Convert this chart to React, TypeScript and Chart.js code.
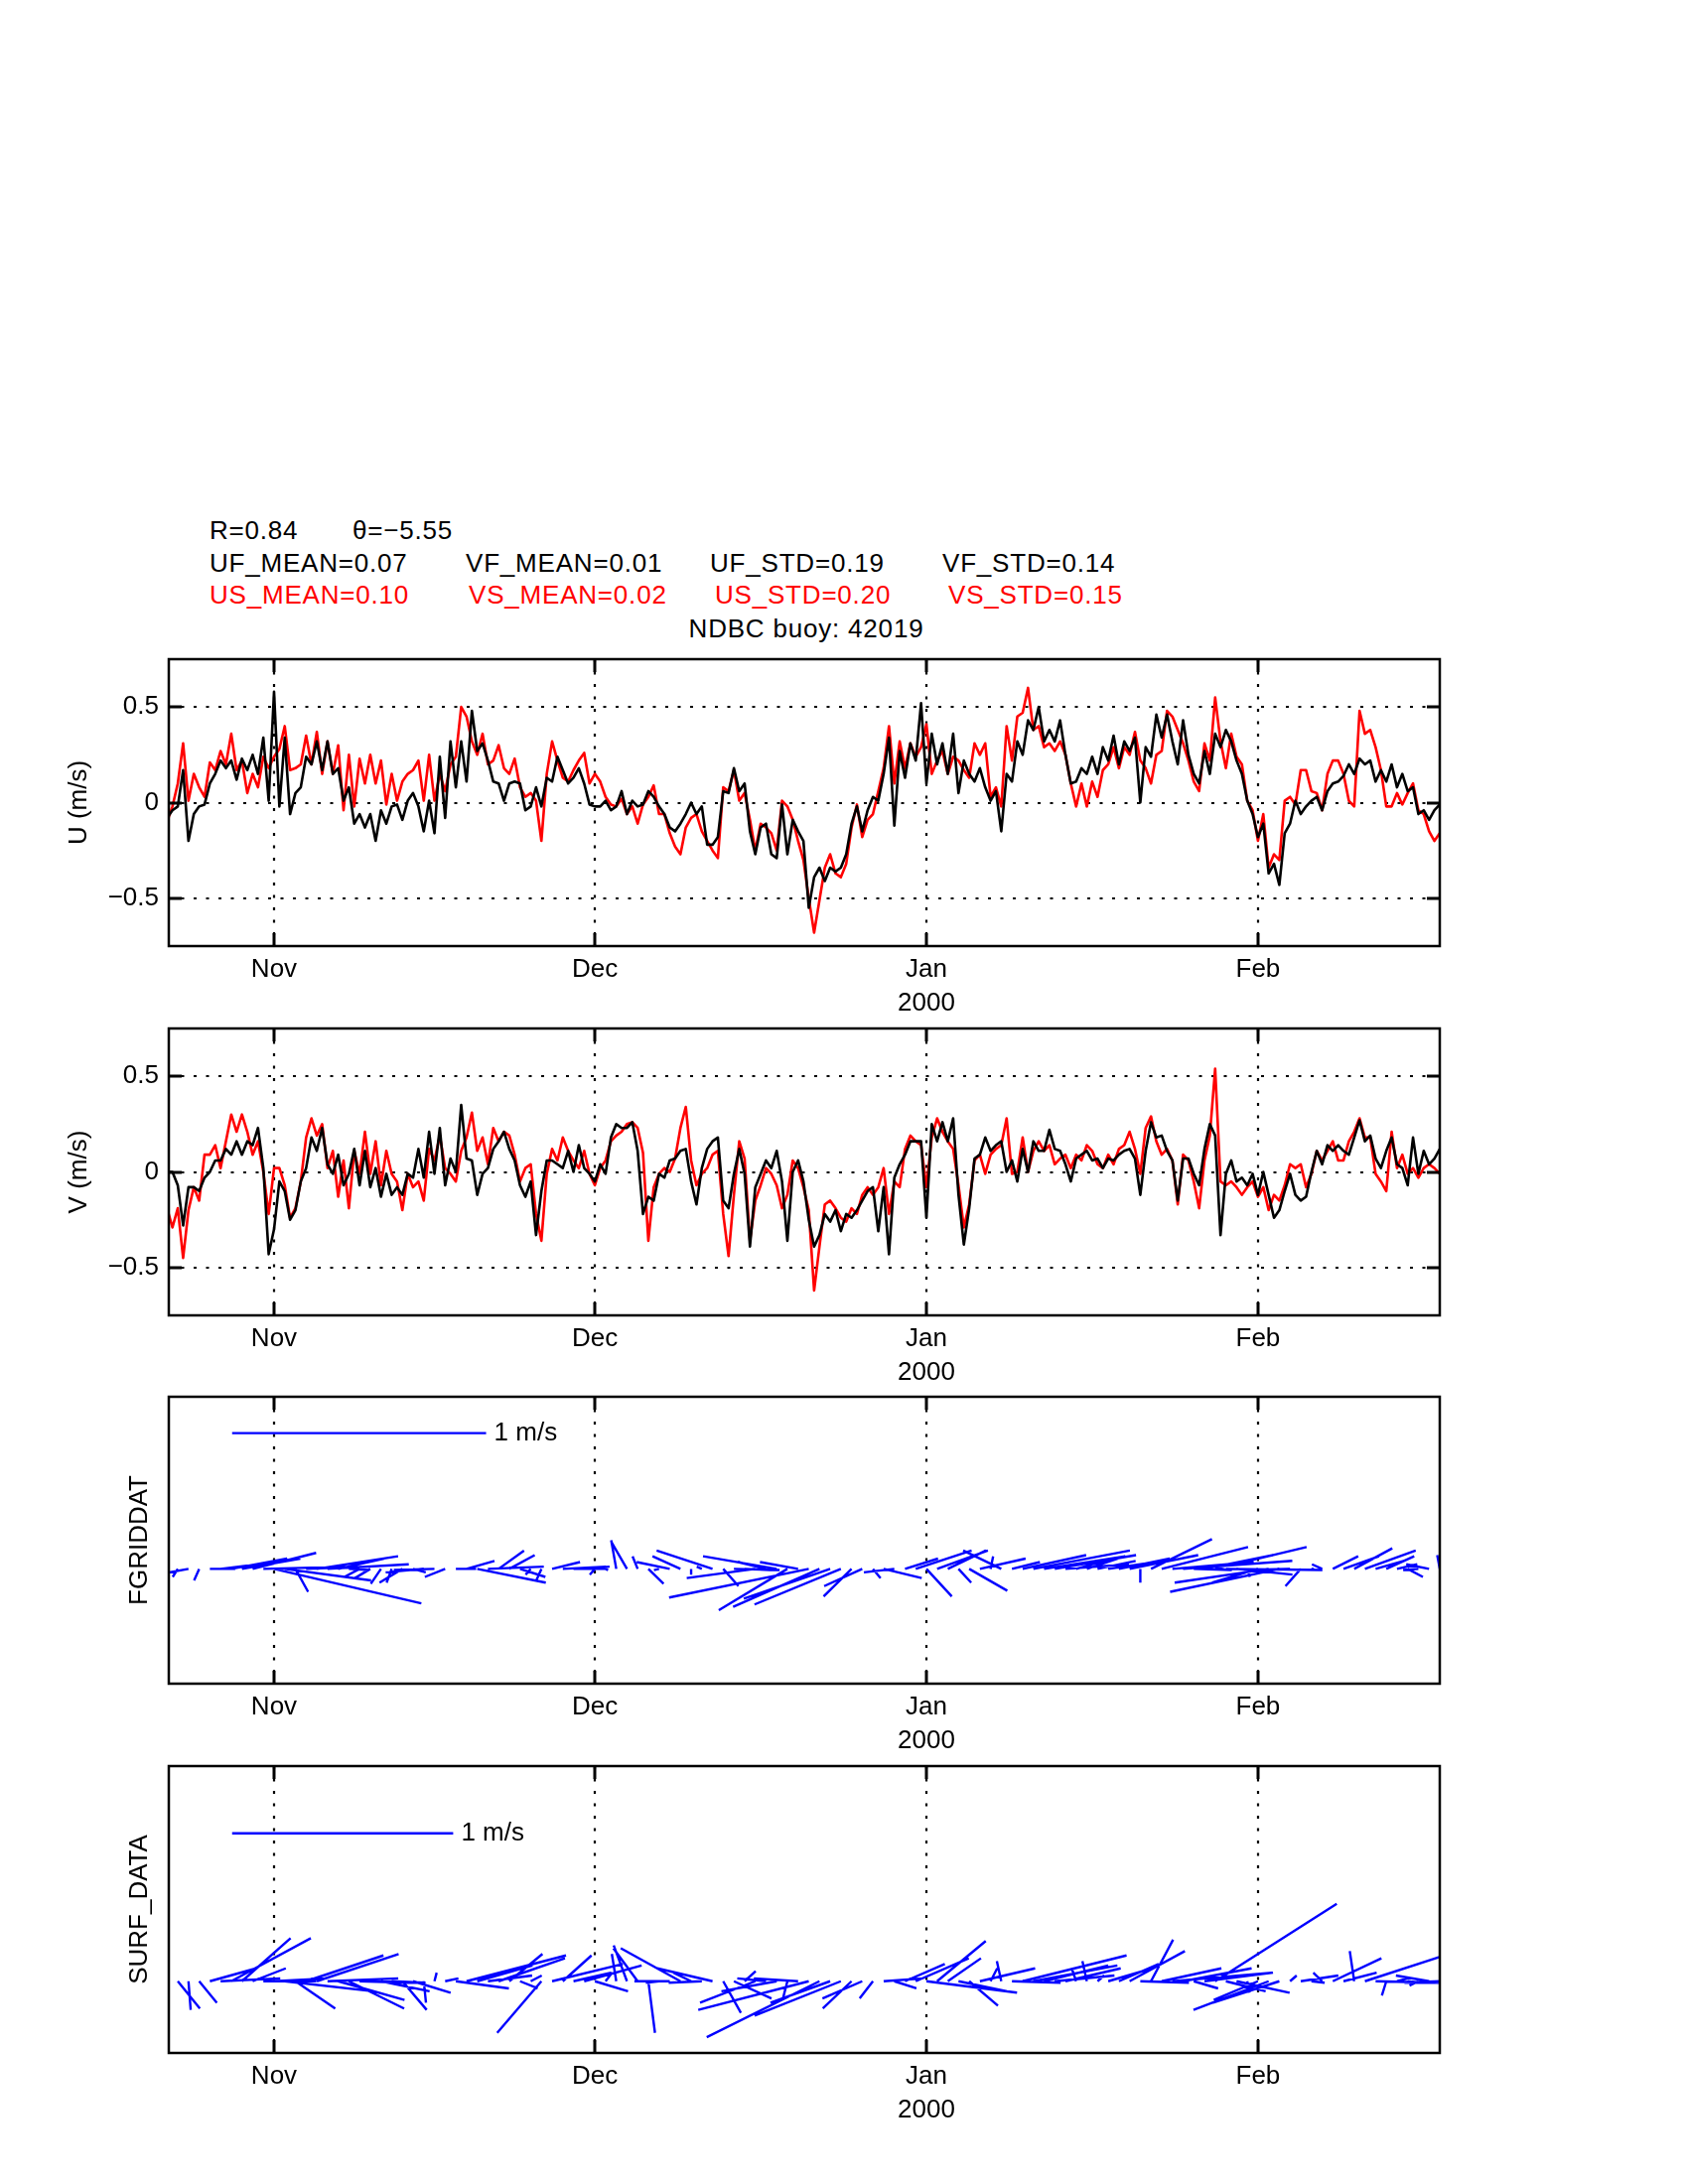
import React, { useEffect, useRef } from 'react';
import { Chart, registerables } from 'chart.js';

Chart.register(...registerables);

// ---------- time axis (days from 1 Nov 1999) ----------
const T0 = -10; // first sample (day)
const DT = 0.5; // sample spacing (days)
const X_MIN = -9.84;
const X_MAX = 109.0;
const MONTH_DAYS = [0, 30, 61, 92];
const MONTH_LABELS = ['Nov', 'Dec', 'Jan', 'Feb'];
const YEAR_LABEL = '2000';
const YEAR_UNDER = 61;

// ---------- y ticks of the U / V panels ----------
const UV_TICKS = [-0.5, 0, 0.5];
const UV_RANGE = [-0.75, 0.75];

// ---------- series (m/s), every 0.5 day from day -10 to day 109 ----------
// US: observed (SURF_DATA) east component, red
const US = [
  -0.10, -0.02, 0.10, 0.31, 0.01, 0.15, 0.08, 0.03, 0.21, 0.17,
  0.27, 0.20, 0.36, 0.17, 0.22, 0.05, 0.15, 0.08, 0.24, 0.18,
  0.24, 0.28, 0.40, 0.17, 0.18, 0.20, 0.35, 0.20, 0.37, 0.15,
  0.32, 0.15, 0.30, -0.04, 0.25, -0.02, 0.23, 0.10, 0.25, 0.10,
  0.22, -0.01, 0.15, 0.01, 0.11, 0.15, 0.17, 0.22, 0.01, 0.25,
  0.01, 0.15, 0.06, 0.20, 0.24, 0.50, 0.45, 0.32, 0.25, 0.36,
  0.20, 0.22, 0.30, 0.18, 0.15, 0.23, 0.08, 0.03, 0.05, 0.01,
  -0.20, 0.15, 0.32, 0.22, 0.13, 0.11, 0.17, 0.22, 0.26, 0.10,
  0.15, 0.11, 0.03, -0.01, -0.02, 0.02, -0.06, -0.02, -0.11, -0.01,
  0.03, 0.09, -0.06, -0.06, -0.16, -0.23, -0.27, -0.13, -0.08, -0.06,
  -0.15, -0.20, -0.25, -0.29, 0.08, 0.06, 0.17, 0.01, 0.05, -0.09,
  -0.25, -0.11, -0.13, -0.16, -0.25, 0.01, -0.02, -0.09, -0.20, -0.30,
  -0.50, -0.68, -0.51, -0.34, -0.27, -0.37, -0.39, -0.32, -0.13, -0.01,
  -0.18, -0.09, -0.06, 0.06, 0.18, 0.40, 0.10, 0.32, 0.18, 0.31,
  0.24, 0.29, 0.41, 0.15, 0.22, 0.27, 0.15, 0.24, 0.22, 0.17,
  0.13, 0.31, 0.25, 0.31, 0.03, 0.08, -0.02, 0.40, 0.22, 0.45,
  0.47, 0.60, 0.38, 0.40, 0.29, 0.31, 0.27, 0.32, 0.25, 0.10,
  -0.02, 0.10, -0.02, 0.11, 0.03, 0.17, 0.20, 0.29, 0.18, 0.29,
  0.25, 0.37, 0.22, 0.18, 0.10, 0.25, 0.27, 0.48, 0.45, 0.38,
  0.31, 0.22, 0.11, 0.06, 0.31, 0.22, 0.55, 0.32, 0.18, 0.36,
  0.24, 0.20, 0.01, -0.04, -0.20, -0.06, -0.34, -0.27, -0.30, 0.01,
  0.03, -0.01, 0.17, 0.17, 0.06, 0.05, -0.04, 0.15, 0.22, 0.22,
  0.15, 0.01, -0.02, 0.48, 0.36, 0.38, 0.29, 0.17, -0.02, -0.02,
  0.05, -0.01, 0.05, 0.10, -0.04, -0.06, -0.15, -0.20, -0.16,
];

// UF: model (FGRIDDAT) east component, black
const UF = [
  -0.08, -0.04, -0.02, 0.17, -0.20, -0.06, -0.02, -0.01, 0.10, 0.15,
  0.22, 0.18, 0.22, 0.12, 0.23, 0.17, 0.25, 0.15, 0.34, 0.01,
  0.58, -0.02, 0.34, -0.06, 0.05, 0.08, 0.24, 0.20, 0.32, 0.17,
  0.32, 0.15, 0.18, 0.01, 0.08, -0.11, -0.06, -0.13, -0.06, -0.20,
  -0.04, -0.11, -0.02, -0.01, -0.09, 0.01, 0.05, -0.02, -0.15, 0.01,
  -0.16, 0.24, -0.08, 0.32, 0.08, 0.32, 0.11, 0.48, 0.27, 0.31,
  0.22, 0.11, 0.10, 0.01, 0.10, 0.11, 0.10, -0.04, -0.02, 0.08,
  -0.02, 0.13, 0.11, 0.24, 0.17, 0.10, 0.13, 0.18, 0.10, -0.01,
  -0.02, -0.02, 0.01, -0.04, -0.02, 0.06, -0.06, 0.01, -0.02, -0.01,
  0.06, 0.03, -0.02, -0.06, -0.13, -0.15, -0.11, -0.06, 0.00, -0.06,
  -0.02, -0.22, -0.22, -0.18, 0.06, 0.05, 0.18, 0.06, 0.10, -0.15,
  -0.27, -0.13, -0.11, -0.27, -0.29, -0.01, -0.27, -0.09, -0.15, -0.20,
  -0.55, -0.39, -0.34, -0.41, -0.34, -0.36, -0.34, -0.27, -0.11, -0.02,
  -0.15, -0.04, 0.03, 0.01, 0.15, 0.34, -0.12, 0.27, 0.13, 0.31,
  0.22, 0.52, 0.10, 0.36, 0.20, 0.31, 0.15, 0.36, 0.05, 0.22,
  0.15, 0.11, 0.18, 0.08, 0.01, 0.06, -0.15, 0.15, 0.11, 0.32,
  0.25, 0.43, 0.38, 0.50, 0.32, 0.38, 0.32, 0.43, 0.25, 0.10,
  0.11, 0.18, 0.15, 0.24, 0.15, 0.29, 0.22, 0.35, 0.20, 0.32,
  0.27, 0.34, 0.00, 0.29, 0.24, 0.46, 0.34, 0.46, 0.32, 0.20,
  0.43, 0.25, 0.15, 0.10, 0.27, 0.15, 0.36, 0.29, 0.38, 0.32,
  0.22, 0.15, 0.01, -0.06, -0.18, -0.11, -0.37, -0.32, -0.43, -0.16,
  -0.11, 0.01, -0.06, -0.02, 0.01, 0.03, -0.04, 0.06, 0.10, 0.11,
  0.14, 0.20, 0.15, 0.23, 0.20, 0.22, 0.11, 0.17, 0.11, 0.20,
  0.08, 0.15, 0.06, 0.08, -0.06, -0.04, -0.09, -0.04, -0.01,
];

// VS: observed north component, red
const VS = [
  -0.19, -0.29, -0.19, -0.45, -0.20, -0.08, -0.15, 0.09, 0.09, 0.14,
  0.02, 0.16, 0.30, 0.21, 0.30, 0.21, 0.09, 0.16, 0.00, -0.22,
  0.02, 0.02, -0.07, -0.24, -0.19, -0.05, 0.18, 0.28, 0.19, 0.25,
  0.02, 0.11, -0.13, 0.06, -0.19, 0.11, -0.01, 0.21, -0.01, 0.16,
  -0.07, 0.11, -0.01, -0.05, -0.20, -0.01, -0.08, -0.05, -0.15, 0.12,
  0.06, 0.19, 0.02, -0.01, -0.05, 0.11, 0.18, 0.31, 0.11, 0.18,
  0.04, 0.23, 0.16, 0.21, 0.19, 0.09, -0.05, 0.02, 0.04, -0.22,
  -0.36, -0.01, 0.12, 0.06, 0.18, 0.11, 0.06, 0.02, 0.11, -0.01,
  -0.07, 0.02, 0.06, 0.16, 0.19, 0.21, 0.25, 0.26, 0.23, 0.10,
  -0.36, -0.08, -0.01, 0.02, 0.00, 0.07, 0.23, 0.34, 0.06, -0.07,
  -0.01, 0.02, 0.09, 0.11, -0.22, -0.44, -0.12, 0.16, 0.07, -0.36,
  -0.15, -0.07, 0.02, -0.01, -0.07, -0.19, -0.12, 0.06, 0.02, -0.08,
  -0.20, -0.62, -0.39, -0.17, -0.15, -0.19, -0.24, -0.26, -0.19, -0.22,
  -0.12, -0.08, -0.12, -0.08, 0.02, -0.22, -0.05, -0.08, 0.12, 0.19,
  0.16, 0.14, -0.08, 0.18, 0.28, 0.21, 0.16, 0.12, -0.07, -0.29,
  -0.17, 0.06, 0.09, -0.01, 0.09, 0.12, 0.14, 0.28, -0.01, 0.00,
  0.18, 0.00, 0.11, 0.16, 0.11, 0.14, 0.04, 0.07, 0.09, 0.02,
  0.09, 0.06, 0.14, 0.11, 0.04, 0.02, 0.09, 0.04, 0.12, 0.14,
  0.21, 0.12, -0.01, 0.23, 0.29, 0.16, 0.09, 0.12, 0.06, -0.17,
  0.09, 0.06, -0.05, -0.19, 0.06, 0.19, 0.54, -0.05, -0.07, -0.05,
  -0.08, -0.12, -0.08, -0.05, -0.13, -0.08, -0.20, -0.12, -0.15, -0.07,
  0.04, 0.02, 0.04, -0.08, -0.01, 0.11, 0.06, 0.11, 0.16, 0.06,
  0.06, 0.16, 0.21, 0.28, 0.18, 0.18, -0.01, -0.05, -0.10, 0.21,
  0.02, 0.09, -0.01, 0.02, -0.03, 0.02, 0.04, 0.02, -0.01,
];

// VF: model north component, black
const VF = [
  0.00, 0.00, -0.07, -0.28, -0.08, -0.08, -0.10, -0.03, 0.00, 0.06,
  0.06, 0.12, 0.09, 0.16, 0.09, 0.16, 0.14, 0.23, 0.02, -0.43,
  -0.30, -0.05, -0.10, -0.25, -0.20, -0.05, 0.02, 0.18, 0.11, 0.23,
  0.04, -0.01, 0.09, -0.07, -0.01, 0.12, -0.07, 0.11, -0.08, 0.02,
  -0.13, -0.01, -0.12, -0.08, -0.12, -0.01, -0.03, 0.12, -0.03, 0.21,
  -0.01, 0.23, -0.07, 0.07, 0.00, 0.35, 0.07, 0.06, -0.12, -0.01,
  0.02, 0.12, 0.16, 0.21, 0.12, 0.06, -0.07, -0.13, -0.05, -0.33,
  -0.10, 0.06, 0.06, 0.04, 0.02, 0.11, 0.00, 0.14, 0.02, -0.01,
  -0.05, 0.04, -0.01, 0.18, 0.25, 0.23, 0.23, 0.26, 0.11, -0.22,
  -0.13, -0.15, -0.01, -0.03, 0.06, 0.07, 0.11, 0.12, -0.05, -0.17,
  0.02, 0.12, 0.16, 0.18, -0.15, -0.19, -0.01, 0.12, -0.01, -0.39,
  -0.08, -0.01, 0.06, 0.02, 0.11, -0.05, -0.36, 0.00, 0.06, -0.05,
  -0.25, -0.39, -0.33, -0.22, -0.26, -0.20, -0.31, -0.22, -0.24, -0.20,
  -0.15, -0.10, -0.08, -0.31, -0.08, -0.43, -0.03, 0.04, 0.09, 0.16,
  0.16, 0.16, -0.24, 0.25, 0.16, 0.26, 0.16, 0.28, -0.12, -0.38,
  -0.19, 0.07, 0.09, 0.18, 0.11, 0.14, 0.16, 0.00, 0.06, -0.05,
  0.12, 0.00, 0.16, 0.11, 0.11, 0.22, 0.12, 0.11, 0.04, -0.05,
  0.07, 0.09, 0.11, 0.06, 0.07, 0.02, 0.07, 0.06, 0.09, 0.11,
  0.12, 0.07, -0.12, 0.11, 0.26, 0.18, 0.19, 0.11, 0.06, -0.15,
  0.07, 0.07, -0.01, -0.07, 0.12, 0.25, 0.19, -0.33, -0.01, 0.06,
  -0.05, -0.03, -0.07, -0.01, -0.12, 0.00, -0.12, -0.24, -0.20, -0.10,
  -0.01, -0.12, -0.15, -0.13, 0.00, 0.11, 0.04, 0.14, 0.11, 0.14,
  0.11, 0.09, 0.18, 0.27, 0.16, 0.19, 0.07, 0.02, 0.11, 0.18,
  0.04, 0.02, -0.07, 0.18, -0.01, 0.11, 0.04, 0.07, 0.12,
];

// ---------- header texts ----------
const R_TEXT = 'R=0.84';
const THETA_TEXT = '\u03b8=\u22125.55';
const STATS_F = ['UF_MEAN=0.07', 'VF_MEAN=0.01', 'UF_STD=0.19', 'VF_STD=0.14'];
const STATS_S = ['US_MEAN=0.10', 'VS_MEAN=0.02', 'US_STD=0.20', 'VS_STD=0.15'];
const TITLE = 'NDBC buoy: 42019';
const Y_TITLES = ['U (m/s)', 'V (m/s)', 'FGRIDDAT', 'SURF_DATA'];
const SCALE_LABEL = '1 m/s';

// ---------- layout / style ----------
const FONT = "'Liberation Sans', Arial, Helvetica, sans-serif";
const FONT_SIZE = 26;
const RED = '#ff0000';
const BLACK = '#000000';
const BLUE = '#0000ff';
const PAGE_W = 1700;
const PANEL_TOPS = [664, 1036, 1407, 1779];
const PANEL_H = 289;
const PAD_TOP = 20;
const XAXIS_H = 80;
const Y_AXIS_W = 170;
const RIGHT_PAD = 250;
const TITLE_X = [80, 80, 141, 141];
const STICK_RANGES = [[-1, 1.5], [-0.5, 1.5]];
const STICK_DAYS_PER_MS = [23.75, 20.67];
const SCALE_BAR_X0 = -3.92;
const SCALE_BAR_Y = [1.183, 1.031];

const timeAt = (i: number) => T0 + DT * i;

function toSeries(vals: number[]) {
  return vals.map((v, i) => ({ x: timeAt(i), y: v }));
}

function toSticks(us: number[], vs: number[], k: number) {
  const pts: { x: number; y: number | null }[] = [];
  const n = Math.min(us.length, vs.length);
  for (let i = 0; i < n; i += 2) {
    const t = timeAt(i);
    pts.push({ x: t, y: 0 }, { x: t + us[i] * k, y: vs[i] }, { x: t, y: null });
  }
  return pts;
}

const framePlugin = {
  id: 'frame',
  beforeDatasetsDraw(chart: any, _args: any, opts: any) {
    const { ctx, chartArea: a, scales } = chart;
    const x = scales.x;
    const y = scales.y;
    ctx.save();
    ctx.beginPath();
    ctx.rect(a.left, a.top, a.right - a.left, a.bottom - a.top);
    ctx.clip();
    ctx.strokeStyle = BLACK;
    ctx.lineWidth = 2.2;
    ctx.setLineDash([3, 9.5]);
    for (const d of MONTH_DAYS) {
      const px = Math.round(x.getPixelForValue(d));
      ctx.beginPath();
      ctx.moveTo(px, a.top);
      ctx.lineTo(px, a.bottom);
      ctx.stroke();
    }
    if (opts.hGrid) {
      for (const v of UV_TICKS) {
        const py = Math.round(y.getPixelForValue(v));
        ctx.beginPath();
        ctx.moveTo(a.left, py);
        ctx.lineTo(a.right, py);
        ctx.stroke();
      }
    }
    ctx.restore();
  },
  afterDatasetsDraw(chart: any, _args: any, opts: any) {
    const { ctx, chartArea: a, scales } = chart;
    const x = scales.x;
    const y = scales.y;
    ctx.save();
    ctx.setLineDash([]);
    ctx.strokeStyle = BLACK;
    ctx.lineWidth = 2.5;
    ctx.strokeRect(a.left, a.top, a.right - a.left, a.bottom - a.top);
    ctx.lineWidth = 3;
    const TL = 13;
    for (const d of MONTH_DAYS) {
      const px = Math.round(x.getPixelForValue(d));
      ctx.beginPath();
      ctx.moveTo(px, a.top);
      ctx.lineTo(px, a.top + TL);
      ctx.moveTo(px, a.bottom);
      ctx.lineTo(px, a.bottom - TL);
      ctx.stroke();
    }
    if (opts.yTicks) {
      for (const v of UV_TICKS) {
        const py = Math.round(y.getPixelForValue(v));
        ctx.beginPath();
        ctx.moveTo(a.left, py);
        ctx.lineTo(a.left + TL, py);
        ctx.moveTo(a.right, py);
        ctx.lineTo(a.right - TL, py);
        ctx.stroke();
      }
    }
    ctx.fillStyle = BLACK;
    ctx.font = `${FONT_SIZE}px ${FONT}`;
    if (opts.title) {
      ctx.save();
      ctx.translate(opts.titleX, (a.top + a.bottom) / 2);
      ctx.rotate(-Math.PI / 2);
      ctx.textAlign = 'center';
      ctx.textBaseline = 'middle';
      ctx.fillText(opts.title, 0, 0);
      ctx.restore();
    }
    if (opts.bar) {
      const px = x.getPixelForValue(opts.bar.xEnd) + 8;
      const py = y.getPixelForValue(opts.bar.y);
      ctx.textAlign = 'left';
      ctx.textBaseline = 'middle';
      ctx.fillText(SCALE_LABEL, px, py);
    }
    ctx.restore();
  },
};

function xScale() {
  return {
    type: 'linear',
    position: 'bottom',
    min: X_MIN,
    max: X_MAX,
    afterBuildTicks: (s: any) => {
      s.ticks = MONTH_DAYS.map((v) => ({ value: v }));
    },
    afterFit: (s: any) => {
      s.height = XAXIS_H;
      s.paddingLeft = 0;
      s.paddingRight = 0;
      s.paddingTop = 0;
      s.paddingBottom = 0;
    },
    grid: { display: false, drawTicks: false },
    border: { display: false },
    ticks: {
      autoSkip: false,
      maxRotation: 0,
      minRotation: 0,
      padding: 7,
      color: BLACK,
      font: { family: FONT, size: FONT_SIZE, lineHeight: 1.3 },
      callback: (v: number) => {
        const i = MONTH_DAYS.indexOf(v);
        const lab = i >= 0 ? MONTH_LABELS[i] : '';
        return v === YEAR_UNDER ? [lab, YEAR_LABEL] : lab;
      },
    },
  };
}

function yScale(range: number[], showTicks: boolean) {
  return {
    type: 'linear',
    position: 'left',
    min: range[0],
    max: range[1],
    afterBuildTicks: (s: any) => {
      s.ticks = showTicks ? UV_TICKS.map((v) => ({ value: v })) : [];
    },
    afterFit: (s: any) => {
      s.width = Y_AXIS_W;
      s.paddingTop = 0;
      s.paddingBottom = 0;
      s.paddingLeft = 0;
      s.paddingRight = 0;
    },
    grid: { display: false, drawTicks: false },
    border: { display: false },
    ticks: {
      display: showTicks,
      padding: 10,
      color: BLACK,
      font: { family: FONT, size: FONT_SIZE },
      callback: (v: number) => (v < 0 ? '\u2212' + Math.abs(v) : String(v)),
    },
  };
}

function baseOptions(yRange: number[], showY: boolean, frame: any) {
  return {
    responsive: false,
    animation: false,
    events: [],
    layout: { padding: { top: PAD_TOP, left: 0, right: RIGHT_PAD, bottom: 0 } },
    elements: { point: { radius: 0 }, line: { tension: 0 } },
    plugins: {
      legend: { display: false },
      tooltip: { enabled: false },
      title: { display: false },
      frame,
    },
    scales: { x: xScale(), y: yScale(yRange, showY) },
  };
}

function lineDataset(vals: number[], color: string) {
  return {
    data: toSeries(vals),
    borderColor: color,
    borderWidth: 2.6,
    borderJoinStyle: 'round',
    pointRadius: 0,
    fill: false,
  };
}

function stickDatasets(us: number[], vs: number[], p: number) {
  const k = STICK_DAYS_PER_MS[p];
  return [
    {
      data: [
        { x: SCALE_BAR_X0, y: SCALE_BAR_Y[p] },
        { x: SCALE_BAR_X0 + k, y: SCALE_BAR_Y[p] },
      ],
      borderColor: BLUE,
      borderWidth: 2.4,
      pointRadius: 0,
      fill: false,
    },
    {
      data: toSticks(us, vs, k),
      borderColor: BLUE,
      borderWidth: 2.4,
      pointRadius: 0,
      fill: false,
      spanGaps: false,
    },
  ];
}

function makeConfigs() {
  return [
    {
      type: 'line',
      data: { datasets: [lineDataset(UF, BLACK), lineDataset(US, RED)] },
      options: baseOptions(UV_RANGE, true, { hGrid: true, yTicks: true, title: Y_TITLES[0], titleX: TITLE_X[0] }),
      plugins: [framePlugin],
    },
    {
      type: 'line',
      data: { datasets: [lineDataset(VF, BLACK), lineDataset(VS, RED)] },
      options: baseOptions(UV_RANGE, true, { hGrid: true, yTicks: true, title: Y_TITLES[1], titleX: TITLE_X[1] }),
      plugins: [framePlugin],
    },
    {
      type: 'line',
      data: { datasets: stickDatasets(UF, VF, 0) },
      options: baseOptions(STICK_RANGES[0], false, {
        hGrid: false,
        yTicks: false,
        title: Y_TITLES[2],
        titleX: TITLE_X[2],
        bar: { xEnd: SCALE_BAR_X0 + STICK_DAYS_PER_MS[0], y: SCALE_BAR_Y[0] },
      }),
      plugins: [framePlugin],
    },
    {
      type: 'line',
      data: { datasets: stickDatasets(US, VS, 1) },
      options: baseOptions(STICK_RANGES[1], false, {
        hGrid: false,
        yTicks: false,
        title: Y_TITLES[3],
        titleX: TITLE_X[3],
        bar: { xEnd: SCALE_BAR_X0 + STICK_DAYS_PER_MS[1], y: SCALE_BAR_Y[1] },
      }),
      plugins: [framePlugin],
    },
  ];
}

const textStyle = (left: number, baseline: number, color: string): React.CSSProperties => ({
  position: 'absolute',
  left,
  top: baseline - 24,
  fontFamily: FONT,
  fontSize: FONT_SIZE,
  lineHeight: '30px',
  letterSpacing: '0.8px',
  color,
  whiteSpace: 'nowrap',
  margin: 0,
});

const STAT_X_F = [211, 469, 715, 949];
const STAT_X_S = [211, 472, 720, 955];

export default function App() {
  const refs = [
    useRef<HTMLCanvasElement>(null),
    useRef<HTMLCanvasElement>(null),
    useRef<HTMLCanvasElement>(null),
    useRef<HTMLCanvasElement>(null),
  ];

  useEffect(() => {
    const configs = makeConfigs();
    const charts: Chart[] = [];
    configs.forEach((cfg, i) => {
      const c = refs[i].current;
      if (c) charts.push(new Chart(c, cfg as any));
    });
    return () => {
      charts.forEach((ch) => ch.destroy());
    };
  }, []);

  const canvasH = PAD_TOP + PANEL_H + XAXIS_H;

  return (
    <div style={{ position: 'absolute', left: 0, top: 0, width: PAGE_W, height: 2200, background: '#fff' }}>
      <div style={textStyle(211, 542.7, BLACK)}>{R_TEXT}</div>
      <div style={textStyle(355, 542.7, BLACK)}>{THETA_TEXT}</div>
      {STATS_F.map((s, i) => (
        <div key={'f' + i} style={textStyle(STAT_X_F[i], 575.7, BLACK)}>
          {s}
        </div>
      ))}
      {STATS_S.map((s, i) => (
        <div key={'s' + i} style={textStyle(STAT_X_S[i], 608.3, RED)}>
          {s}
        </div>
      ))}
      <div style={{ ...textStyle(412, 641.7, BLACK), width: 800, textAlign: 'center' }}>{TITLE}</div>
      {PANEL_TOPS.map((t, i) => (
        <canvas
          key={i}
          ref={refs[i]}
          width={PAGE_W}
          height={canvasH}
          style={{ position: 'absolute', left: 0, top: t - PAD_TOP, width: PAGE_W, height: canvasH }}
        />
      ))}
    </div>
  );
}
